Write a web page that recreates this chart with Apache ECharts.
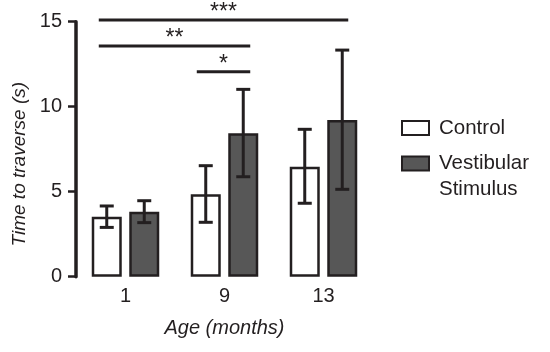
<!DOCTYPE html>
<html>
<head>
<meta charset="utf-8">
<script src="https://cdn.jsdelivr.net/npm/echarts@6/dist/echarts.min.js"></script>
<style>
  html, body { margin: 0; padding: 0; background: #fff; }
  #main { width: 550px; height: 352px; }
</style>
</head>
<body>
<div id="main"></div>
<script>
// ages on the x axis
const ages = ['1', '9', '13'];
// mean time to traverse (s)
const controlMean = [3.53, 4.85, 6.47];
const stimMean = [3.82, 8.44, 9.22];
// error bar ends [low, high]
const controlErr = [[2.9, 4.16], [3.2, 6.53], [4.32, 8.67]];
const stimErr = [[3.18, 4.47], [5.88, 11.02], [5.14, 13.33]];
// significance brackets: [from, to, height, label] (x in category units)
const brackets = [
    [-0.27, 2.25, 15.1, '***'],
    [-0.27, 1.26, 13.57, '**'],
    [0.72, 1.26, 12.06, '*']
];

const ink = '#231f20';
const font = 'Arial, "Liberation Sans", sans-serif';
const barWidth = 30;
const barGap = 0.25;

let errData = [];
controlErr.forEach((e, i) => errData.push([i, e[0], e[1], 0]));
stimErr.forEach((e, i) => errData.push([i, e[0], e[1], 1]));

function renderErr(params, api) {
    const idx = api.value(0);
    const side = api.value(3) === 0 ? -1 : 1;
    const off = side * barWidth * (1 + barGap) / 2;
    const lo = api.coord([idx, api.value(1)]);
    const hi = api.coord([idx, api.value(2)]);
    const x = lo[0] + off;
    const cap = 7;
    const style = { stroke: ink, lineWidth: 3 };
    return {
        type: 'group',
        children: [
            { type: 'line', shape: { x1: x, y1: hi[1], x2: x, y2: lo[1] }, style: style },
            { type: 'line', shape: { x1: x - cap, y1: hi[1], x2: x + cap, y2: hi[1] }, style: style },
            { type: 'line', shape: { x1: x - cap, y1: lo[1], x2: x + cap, y2: lo[1] }, style: style }
        ]
    };
}

function renderBracket(params, api) {
    const a = api.coord([api.value(0), api.value(2)]);
    const b = api.coord([api.value(1), api.value(2)]);
    return {
        type: 'group',
        children: [
            { type: 'line', shape: { x1: a[0], y1: a[1], x2: b[0], y2: b[1] },
              style: { stroke: ink, lineWidth: 3 } },
            { type: 'text', x: (a[0] + b[0]) / 2, y: a[1] - 7,
              style: { text: brackets[params.dataIndex][3], fill: ink, font: '23px ' + font,
                       align: 'center', verticalAlign: 'middle' } }
        ]
    };
}

let myChart = echarts.init(document.getElementById('main'));

let option = {
    animation: false,
    textStyle: { fontFamily: font },
    grid: { left: 76, right: 177, top: 21.7, bottom: 75.3 },
    legend: [{
        data: ['Control'],
        icon: 'rect',
        left: 401,
        top: 116,
        padding: 0,
        itemWidth: 27,
        itemHeight: 14,
        textStyle: { fontSize: 20.5, color: ink, lineHeight: 24, padding: [0, 0, 0, 5] }
    }, {
        data: ['Vestibular Stimulus'],
        icon: 'rect',
        left: 401,
        top: 127,
        padding: 0,
        itemWidth: 27,
        itemHeight: 14,
        formatter: function () { return '{a| }\n{a|Vestibular}\n{a|Stimulus}'; },
        textStyle: {
            color: ink,
            rich: { a: { fontSize: 20.5, lineHeight: 26, color: ink, padding: [0, 0, 0, 5] } }
        }
    }],
    xAxis: [{
        type: 'category',
        data: ages,
        name: 'Age (months)',
        nameLocation: 'middle',
        nameGap: 42,
        nameTextStyle: { fontSize: 20, fontStyle: 'italic', color: ink },
        axisLine: { show: false },
        axisTick: { show: false },
        axisLabel: { fontSize: 20, color: ink, margin: 10 }
    }, {
        type: 'value',
        min: -0.5,
        max: 2.5,
        show: false
    }],
    yAxis: {
        type: 'value',
        min: 0,
        max: 15,
        interval: 5,
        name: 'Time to traverse (s)',
        nameLocation: 'middle',
        nameGap: 42,
        nameTextStyle: { fontSize: 19, fontStyle: 'italic', color: ink, padding: [0, 30, 0, 0] },
        splitLine: { show: false },
        axisLine: { show: true, onZero: false, lineStyle: { color: ink, width: 3.5 } },
        axisTick: { show: true, length: 8, lineStyle: { color: ink, width: 2.5 } },
        axisLabel: { fontSize: 20, color: ink, margin: 14 }
    },
    series: [{
        name: 'Control',
        type: 'bar',
        data: controlMean,
        barWidth: barWidth,
        barGap: (barGap * 100) + '%',
        itemStyle: { color: '#ffffff', borderColor: ink, borderWidth: 2.5 }
    }, {
        name: 'Vestibular Stimulus',
        type: 'bar',
        data: stimMean,
        barWidth: barWidth,
        itemStyle: { color: '#575757', borderColor: ink, borderWidth: 2.5 }
    }, {
        type: 'custom',
        renderItem: renderErr,
        data: errData,
        z: 10
    }, {
        type: 'custom',
        xAxisIndex: 1,
        renderItem: renderBracket,
        data: brackets.map(b => [b[0], b[1], b[2]]),
        z: 10
    }]
};
myChart.setOption(option);
</script>
</body>
</html>
